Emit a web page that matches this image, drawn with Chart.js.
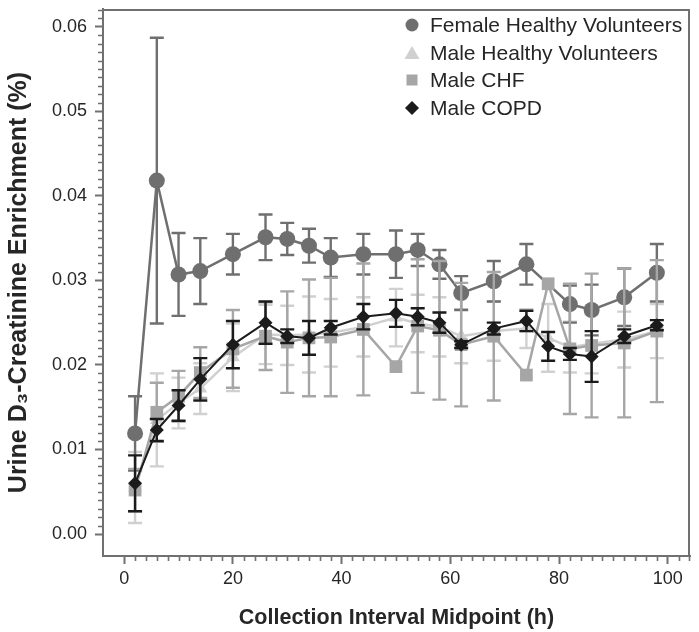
<!DOCTYPE html>
<html><head><meta charset="utf-8">
<script src="https://cdn.jsdelivr.net/npm/chart.js@4.4.1/dist/chart.umd.min.js"></script>
<style>html,body{margin:0;padding:0;background:#fff;}#wrap{width:699px;height:632px;}</style>
</head><body><div id="wrap"><canvas id="c" width="699" height="632"></canvas></div>
<script>
// ---- data ----
const hours = [2, 6, 10, 14, 20, 26, 30, 34, 38, 44, 50, 54, 58, 62, 68, 74, 78, 82, 86, 92, 98];

const seriesNames = ["Female Healthy Volunteers", "Male Healthy Volunteers", "Male CHF", "Male COPD"];

const femaleMean = [0.0119, 0.0418, 0.0307, 0.0311, 0.0331, 0.0351, 0.0349, 0.0341, 0.0327, 0.0331, 0.0331, 0.0336, 0.0319, 0.0285, 0.0299, 0.0319, null, 0.0272, 0.0265, 0.0280, 0.0309];
const femaleSd   = [0.0044, 0.0169, 0.0049, 0.0039, 0.0024, 0.0027, 0.0019, 0.0020, 0.0023, 0.0024, 0.0028, 0.0019, 0.0017, 0.0020, 0.0024, 0.0024, null, 0.0022, 0.0030, 0.0034, 0.0034];

const maleHvMean = [0.0055, 0.0135, 0.0155, 0.0172, 0.0209, 0.0236, 0.0235, 0.0236, 0.0238, 0.0245, 0.0256, 0.0249, 0.0245, 0.0234, 0.0240, 0.0243, 0.0232, 0.0221, 0.0225, 0.0230, 0.0240];
const maleHvSd   = [0.0042, 0.0055, 0.0030, 0.0030, 0.0040, 0.0035, 0.0035, 0.0045, 0.0040, 0.0035, 0.0034, 0.0034, 0.0035, 0.0032, 0.0035, 0.0023, 0.0040, 0.0030, 0.0035, 0.0033, 0.0032];

const chfMean = [0.0052, 0.0144, 0.0163, 0.0191, 0.0219, 0.0234, 0.0227, 0.0232, 0.0233, 0.0242, 0.0198, 0.0246, 0.0241, 0.0224, 0.0234, 0.0188, 0.0296, 0.0219, 0.0223, 0.0226, 0.0240];
const chfSd   = [0.0025, 0.0035, 0.0030, 0.0030, 0.0046, 0.0040, 0.0060, 0.0069, 0.0070, 0.0078, 0, 0.0079, 0.0082, 0.0073, 0.0076, 0, 0, 0.0077, 0.0085, 0.0088, 0.0084];

const copdMean = [0.0060, 0.0123, 0.0152, 0.0183, 0.0224, 0.0250, 0.0234, 0.0232, 0.0244, 0.0257, 0.0261, 0.0257, 0.0250, 0.0224, 0.0243, 0.0252, 0.0222, 0.0213, 0.0210, 0.0234, 0.0247];
const copdSd   = [0.0033, 0.0013, 0.0018, 0.0025, 0.0028, 0.0025, 0.0008, 0.0020, 0.0008, 0.0015, 0.0016, 0.0010, 0.0012, 0.0004, 0.0007, 0.0012, 0.0017, 0.0007, 0.0030, 0.0008, 0.0006];

const xTickStep = 20;
const yTickStep = 0.01;
const xTitle = "Collection Interval Midpoint (h)";
const yTitle = "Urine D\u2083-Creatinine Enrichment (%)";

// ---- styling ----
const FONT = "'Liberation Sans', Arial, Helvetica, sans-serif";
const AXIS = '#707070';
const TEXT = '#262626';
const C_FEMALE = '#6f6f6f', C_HV = '#d0d0d0', C_CHF = '#a6a6a6', C_COPD = '#1b1b1b';

function hasFont(name) {
  const c = document.createElement('canvas').getContext('2d');
  const t = 'Collection Interval Midpoint (h)';
  c.font = 'bold 26px monospace'; const w1 = c.measureText(t).width;
  c.font = "bold 26px '" + name + "', monospace"; const w2 = c.measureText(t).width;
  return Math.abs(w1 - w2) > 0.5;
}
const narrow = hasFont('Liberation Sans Narrow');
const xTitleFont = narrow
  ? { size: 26, weight: 'bold', family: "'Liberation Sans Narrow', 'Liberation Sans', sans-serif" }
  : { size: 21.5, weight: 'bold', family: FONT };

function toPoints(vals) { return hours.map((h, i) => ({ x: h, y: vals[i] })); }

const errorBars = {
  id: 'errorBars',
  beforeDatasetDraw(chart, args) {
    const ds = chart.data.datasets[args.index];
    if (!ds.sd) return;
    const xs = chart.scales.x, ys = chart.scales.y, ctx = chart.ctx;
    const cap = 7;
    ctx.save();
    const a = chart.chartArea;
    ctx.beginPath(); ctx.rect(a.left, a.top, a.right - a.left, a.bottom - a.top); ctx.clip();
    ctx.strokeStyle = ds.errColor; ctx.lineWidth = 2.4; ctx.lineCap = 'butt';
    ds.data.forEach((p, i) => {
      const s = ds.sd[i];
      if (p.y == null || !s) return;
      const px = xs.getPixelForValue(p.x);
      const t = ys.getPixelForValue(p.y + s), b = ys.getPixelForValue(p.y - s);
      ctx.beginPath();
      ctx.moveTo(px, t); ctx.lineTo(px, b);
      ctx.moveTo(px - cap, t); ctx.lineTo(px + cap, t);
      ctx.moveTo(px - cap, b); ctx.lineTo(px + cap, b);
      ctx.stroke();
    });
    ctx.restore();
  }
};

const frameAndMinor = {
  id: 'frameAndMinor',
  beforeDatasetsDraw(chart) {
    const ctx = chart.ctx, a = chart.chartArea, xs = chart.scales.x, ys = chart.scales.y;
    ctx.save();
    ctx.strokeStyle = AXIS; ctx.lineWidth = 2;
    ctx.beginPath();
    ctx.moveTo(a.left, a.top + 1); ctx.lineTo(a.right - 1, a.top + 1); ctx.lineTo(a.right - 1, a.bottom);
    ctx.stroke();
    ctx.lineWidth = 1.6;
    ctx.beginPath();
    for (let k = 0; k <= 62; k++) {
      if (k % 10 === 0) continue;
      const py = Math.round(ys.getPixelForValue(k / 1000)) + 0.5;
      if (py < a.top) continue;
      ctx.moveTo(a.left - 5, py); ctx.lineTo(a.left, py);
    }
    for (let k = 0; k <= 104; k += 2) {
      if (k % 20 === 0) continue;
      const px = Math.round(xs.getPixelForValue(k)) + 0.5;
      if (px > a.right) continue;
      ctx.moveTo(px, a.bottom); ctx.lineTo(px, a.bottom + 5);
    }
    ctx.stroke();
    ctx.restore();
  }
};

const insideLegend = {
  id: 'insideLegend',
  afterDraw(chart) {
    const ctx = chart.ctx;
    const mx = 412, tx = 430, rows = [25, 53, 80, 108];
    const marks = [
      { c: C_FEMALE, s: 'circle' }, { c: C_HV, s: 'triangle' },
      { c: C_CHF, s: 'rect' }, { c: C_COPD, s: 'diamond' }
    ];
    ctx.save();
    marks.forEach((m, i) => {
      const y = rows[i];
      ctx.fillStyle = m.c;
      ctx.beginPath();
      if (m.s === 'circle') ctx.arc(mx, y, 6.5, 0, Math.PI * 2);
      else if (m.s === 'triangle') { ctx.moveTo(mx, y - 7); ctx.lineTo(mx + 7.5, y + 6); ctx.lineTo(mx - 7.5, y + 6); ctx.closePath(); }
      else if (m.s === 'rect') ctx.rect(mx - 5.5, y - 5.5, 11, 11);
      else { ctx.moveTo(mx, y - 7); ctx.lineTo(mx + 7, y); ctx.lineTo(mx, y + 7); ctx.lineTo(mx - 7, y); ctx.closePath(); }
      ctx.fill();
      ctx.fillStyle = TEXT;
      ctx.font = "21px " + FONT;
      ctx.textBaseline = 'middle';
      ctx.textAlign = 'left';
      ctx.fillText(seriesNames[i], tx, y + 1);
    });
    ctx.restore();
  }
};

new Chart(document.getElementById('c'), {
  type: 'line',
  data: {
    datasets: [
      { label: seriesNames[0], data: toPoints(femaleMean), sd: femaleSd, errColor: C_FEMALE,
        borderColor: C_FEMALE, backgroundColor: C_FEMALE, borderWidth: 2.5,
        pointStyle: 'circle', pointRadius: 8, pointBorderWidth: 0, spanGaps: true, order: 2 },
      { label: seriesNames[1], data: toPoints(maleHvMean), sd: maleHvSd, errColor: C_HV,
        borderColor: C_HV, backgroundColor: C_HV, borderWidth: 2.5,
        pointStyle: 'triangle', pointRadius: 8, pointBorderWidth: 0, order: 3 },
      { label: seriesNames[2], data: toPoints(chfMean), sd: chfSd, errColor: C_CHF,
        borderColor: C_CHF, backgroundColor: C_CHF, borderWidth: 2.5,
        pointStyle: 'rect', pointRadius: 9, pointBorderWidth: 0, order: 1 },
      { label: seriesNames[3], data: toPoints(copdMean), sd: copdSd, errColor: C_COPD,
        borderColor: C_COPD, backgroundColor: C_COPD, borderWidth: 2,
        pointStyle: 'rectRot', pointRadius: 7, pointBorderWidth: 0, order: 0 }
    ]
  },
  options: {
    responsive: false,
    animation: false,
    events: [],
    layout: { padding: { left: 0, right: 2, top: 2, bottom: 0 } },
    plugins: { legend: { display: false }, tooltip: { enabled: false } },
    scales: {
      x: {
        type: 'linear', min: -3.9, max: 104.1,
        afterFit(s) { s.height = 76; s.paddingLeft = 0; s.paddingRight = 0; },
        border: { color: AXIS, width: 2 },
        grid: { drawOnChartArea: false, drawTicks: true, tickLength: 8, tickWidth: 2, tickColor: AXIS },
        ticks: { stepSize: xTickStep, includeBounds: false, color: TEXT, padding: 4,
                 font: { size: 18, family: FONT }, maxRotation: 0 },
        title: { display: true, text: xTitle, color: TEXT,
                 font: xTitleFont, padding: { bottom: 1, top: 0 } }
      },
      y: {
        type: 'linear', min: -0.0026, max: 0.0621,
        afterFit(s) { s.width = 103; s.paddingTop = 0; s.paddingBottom = 0; },
        border: { color: AXIS, width: 2 },
        grid: { drawOnChartArea: false, drawTicks: true, tickLength: 8, tickWidth: 2, tickColor: AXIS },
        ticks: { stepSize: yTickStep, includeBounds: false, color: TEXT, padding: 8,
                 font: { size: 18, family: FONT }, callback: v => v.toFixed(2) },
        title: { display: true, text: yTitle, color: TEXT,
                 font: { size: 25, weight: 'bold', family: FONT }, padding: { top: 4, bottom: 0 } }
      }
    }
  },
  plugins: [errorBars, frameAndMinor, insideLegend]
});
</script>
</body></html>
